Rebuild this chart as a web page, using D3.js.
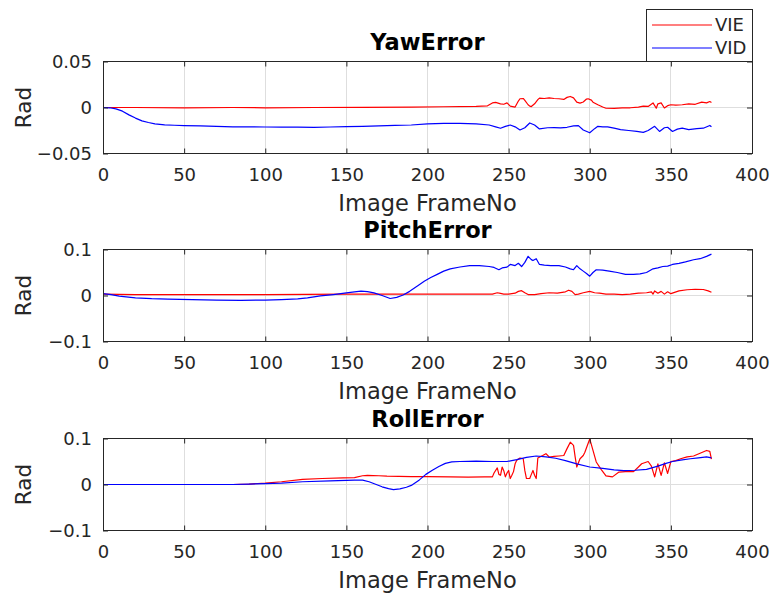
<!DOCTYPE html>
<html>
<head>
<meta charset="utf-8">
<script src="https://cdn.jsdelivr.net/npm/d3@7"></script>
<style>
  body { margin: 0; background: #fff; }
  svg { display: block; }
  text { font-family: "DejaVu Sans", sans-serif; }
</style>
</head>
<body>
<svg id="fig" width="775" height="597"></svg>
<script>
// ---- Series: frame numbers and error values (rad) ----
const seriesNames = ["VIE", "VID"];
const xTicks = [0, 50, 100, 150, 200, 250, 300, 350, 400];

// Yaw error
const yawVIEFrames = [0, 20, 50, 80, 100, 130, 160, 190, 210, 230, 237, 240, 242, 245, 247, 249, 251, 254, 256, 257, 259, 260, 262, 263, 264, 266, 268, 269, 272, 275, 278, 281, 284, 286, 288, 290, 292, 294, 296, 298, 299, 301, 302, 305, 308, 310, 315, 320, 325, 330, 333, 336, 339, 341, 342, 344, 346, 348, 350, 353, 357, 361, 365, 369, 372, 374, 375];
const yawVIE = [0, 0, -0.0004, 0, -0.0003, 0, 0.0002, 0.0005, 0.0008, 0.0013, 0.0018, 0.005, 0.0055, 0.004, 0.0035, 0.005, 0.0015, 0.0005, 0.007, 0.0095, 0.0098, 0.0077, 0.003, 0.0015, 0.001, 0.004, 0.0085, 0.0102, 0.0098, 0.0105, 0.0098, 0.0095, 0.0088, 0.011, 0.012, 0.0105, 0.0058, 0.0048, 0.006, 0.0092, 0.0095, 0.008, 0.0058, 0.003, 0.0005, -0.0008, -0.001, -0.0005, -0.0003, 0.0005, 0.0015, 0.0012, 0.005, -0.0008, 0.004, 0.005, -0.0005, 0.002, 0.003, 0.0025, 0.003, 0.004, 0.0035, 0.0058, 0.005, 0.0065, 0.0055];

const yawVIDFrames = [0, 4, 8, 12, 16, 20, 24, 28, 32, 38, 44, 50, 60, 70, 80, 90, 100, 110, 120, 130, 140, 150, 160, 170, 180, 190, 200, 210, 220, 230, 238, 242, 245, 248, 251, 254, 257, 260, 263, 266, 269, 274, 278, 282, 286, 290, 293, 296, 300, 303, 305, 308, 311, 315, 319, 324, 329, 333, 336, 340, 343, 346, 348, 351, 354, 357, 361, 366, 370, 374, 375];
const yawVID = [0, -0.0003, -0.0015, -0.004, -0.008, -0.0115, -0.0145, -0.0163, -0.0178, -0.0188, -0.0193, -0.0197, -0.02, -0.0205, -0.021, -0.021, -0.0212, -0.0213, -0.0213, -0.0215, -0.0212, -0.0208, -0.0205, -0.02, -0.0195, -0.019, -0.0178, -0.0172, -0.0172, -0.0178, -0.019, -0.021, -0.0226, -0.0205, -0.019, -0.021, -0.0244, -0.022, -0.0168, -0.019, -0.0233, -0.022, -0.0218, -0.0222, -0.0215, -0.02, -0.0197, -0.0244, -0.0275, -0.023, -0.0205, -0.021, -0.021, -0.0225, -0.024, -0.025, -0.026, -0.027, -0.025, -0.0205, -0.026, -0.022, -0.0215, -0.026, -0.0235, -0.0225, -0.024, -0.023, -0.0225, -0.0195, -0.021];

// Pitch error
const pitchVIEFrames = [0, 20, 50, 100, 150, 200, 240, 243, 245, 247, 250, 254, 256, 258, 260, 262, 266, 270, 275, 280, 285, 287, 289, 291, 293, 296, 300, 303, 306, 310, 315, 320, 325, 330, 335, 338, 339, 340, 342, 344, 346, 348, 350, 355, 360, 365, 370, 373, 375];
const pitchVIE = [0.003, 0.002, 0.002, 0.002, 0.003, 0.003, 0.003, 0.006, 0.0045, 0.003, 0.003, 0.005, 0.009, 0.0105, 0.006, 0.002, 0.002, 0.004, 0.006, 0.005, 0.008, 0.0115, 0.009, 0.002, 0.003, 0.006, 0.009, 0.006, 0.005, 0.003, 0.003, 0.002, 0.003, 0.005, 0.006, 0.008, 0.003, 0.01, 0.005, 0.009, 0.003, 0.008, 0.004, 0.01, 0.0125, 0.0136, 0.013, 0.01, 0.007];

const pitchVIDFrames = [0, 5, 10, 20, 30, 40, 55, 70, 85, 100, 110, 120, 126, 134, 142, 150, 155, 159, 163, 167, 172, 177, 181, 185, 189, 194, 198, 202, 206, 210, 214, 220, 226, 232, 238, 241, 244, 246, 249, 251, 254, 256, 258, 260, 262, 264, 265, 267, 269, 272, 276, 281, 285, 288, 290, 292, 294, 296, 298, 300, 302, 304, 308, 312, 317, 322, 327, 331, 335, 339, 342, 345, 348, 351, 355, 359, 364, 368, 372, 375];
const pitchVID = [0.004, 0.002, -0.0015, -0.005, -0.007, -0.008, -0.009, -0.01, -0.0105, -0.01, -0.009, -0.0075, -0.005, -0.001, 0.002, 0.0055, 0.008, 0.0093, 0.0085, 0.0056, 0, -0.0065, -0.004, 0.001, 0.009, 0.021, 0.031, 0.039, 0.046, 0.053, 0.058, 0.062, 0.065, 0.065, 0.063, 0.061, 0.056, 0.06, 0.0617, 0.0675, 0.065, 0.07, 0.063, 0.072, 0.085, 0.078, 0.076, 0.08, 0.0675, 0.066, 0.065, 0.065, 0.062, 0.058, 0.056, 0.065, 0.058, 0.053, 0.048, 0.042, 0.05, 0.056, 0.055, 0.053, 0.05, 0.046, 0.046, 0.047, 0.05, 0.058, 0.06, 0.063, 0.064, 0.0675, 0.07, 0.073, 0.0777, 0.08, 0.085, 0.09];

// Roll error
const rollVIEFrames = [0, 40, 80, 90, 100, 110, 123, 135, 148, 155, 160, 163, 170, 175, 190, 200, 214, 225, 235, 240, 241, 243, 244, 245, 246, 247, 248, 249, 250, 251, 252, 253, 254, 255, 257, 259, 260, 261, 263, 264, 265, 266, 267, 268, 271, 273, 275, 278, 281, 284, 286, 288, 290, 291, 292, 294, 296, 297, 298, 300, 302, 304, 307, 310, 314, 318, 322, 327, 330, 332, 336, 338, 340, 342, 344, 346, 348, 350, 353, 356, 360, 364, 368, 372, 374, 375];
const rollVIE = [0, 0, 0, 0.001, 0.003, 0.006, 0.011, 0.013, 0.0145, 0.015, 0.019, 0.02, 0.019, 0.018, 0.017, 0.017, 0.0166, 0.016, 0.0165, 0.0166, 0.025, 0.036, 0.022, 0.02, 0.038, 0.03, 0.0166, 0.025, 0.0305, 0.013, 0.02, 0.028, 0.045, 0.0526, 0.0575, 0.056, 0.03, 0.013, 0.013, 0.022, 0.0305, 0.02, 0.013, 0.0575, 0.063, 0.067, 0.0597, 0.061, 0.062, 0.063, 0.078, 0.092, 0.085, 0.06, 0.038, 0.056, 0.063, 0.07, 0.08, 0.099, 0.074, 0.049, 0.033, 0.0188, 0.0166, 0.027, 0.028, 0.028, 0.038, 0.045, 0.05, 0.04, 0.0166, 0.045, 0.02, 0.047, 0.024, 0.05, 0.052, 0.056, 0.06, 0.062, 0.068, 0.074, 0.072, 0.055];

const rollVIDFrames = [0, 20, 40, 60, 80, 90, 100, 110, 123, 140, 150, 155, 160, 164, 168, 172, 176, 179, 183, 187, 190, 195, 199, 203, 207, 211, 215, 220, 230, 240, 249, 255, 261, 267, 273, 279, 285, 292, 300, 308, 315, 321, 328, 335, 342, 347, 351, 356, 362, 367, 372, 375];
const rollVID = [0, 0, 0, 0, 0, 0.001, 0.002, 0.003, 0.006, 0.008, 0.009, 0.0095, 0.0095, 0.006, 0.0005, -0.005, -0.009, -0.011, -0.0095, -0.006, -0.002, 0.01, 0.022, 0.031, 0.039, 0.046, 0.049, 0.05, 0.051, 0.05, 0.05, 0.054, 0.059, 0.062, 0.06, 0.057, 0.052, 0.045, 0.038, 0.035, 0.032, 0.03, 0.031, 0.033, 0.04, 0.046, 0.05, 0.053, 0.056, 0.058, 0.06, 0.058];

const panels = [
  { title: "YawError", yDomain: [-0.05, 0.05], yTicks: [-0.05, 0, 0.05], yFormat: d3.format(".2f"),
    series: [[yawVIEFrames, yawVIE], [yawVIDFrames, yawVID]] },
  { title: "PitchError", yDomain: [-0.1, 0.1], yTicks: [-0.1, 0, 0.1], yFormat: d3.format(".1f"),
    series: [[pitchVIEFrames, pitchVIE], [pitchVIDFrames, pitchVID]] },
  { title: "RollError", yDomain: [-0.1, 0.1], yTicks: [-0.1, 0, 0.1], yFormat: d3.format(".1f"),
    series: [[rollVIEFrames, rollVIE], [rollVIDFrames, rollVID]] }
];

// ---- Layout & style ----
const colors = ["#ff0000", "#0000ff"];
const axisColor = "#262626";
const gridColor = "#dedede";
const left = 103, right = 752;
const tops = [61.5, 249.5, 438.5];
const plotH = 92;

const svg = d3.select("#fig");
const x = d3.scaleLinear().domain([0, 400]).range([left, right]);

panels.forEach((p, i) => {
  const top = tops[i], bottom = top + plotH;
  const y = d3.scaleLinear().domain(p.yDomain).range([bottom, top]);
  const g = svg.append("g");

  // grid lines
  g.append("g").selectAll("line").data(xTicks).join("line")
    .attr("x1", d => x(d)).attr("x2", d => x(d)).attr("y1", top).attr("y2", bottom)
    .attr("stroke", gridColor).attr("stroke-width", 1).attr("shape-rendering", "crispEdges");
  g.append("g").selectAll("line").data(p.yTicks).join("line")
    .attr("x1", left).attr("x2", right).attr("y1", d => y(d)).attr("y2", d => y(d))
    .attr("stroke", gridColor).attr("stroke-width", 1).attr("shape-rendering", "crispEdges");

  // series
  const line = d3.line().x(d => x(d[0])).y(d => y(d[1]));
  p.series.forEach(([fr, vals], k) => {
    const pts = fr.map((f, j) => [f, vals[j]]);
    g.append("path").datum(pts).attr("d", line)
      .attr("fill", "none").attr("stroke", colors[k]).attr("stroke-width", 1.2)
      .attr("stroke-linejoin", "round");
  });

  // axes with inward ticks
  const styleAxis = sel => {
    sel.select(".domain").remove();
    sel.selectAll(".tick line").attr("stroke", axisColor);
    sel.selectAll("text").attr("fill", axisColor).style("font-size", "18px")
      .style("font-family", "'DejaVu Sans', sans-serif");
  };
  g.append("g").attr("transform", `translate(0,${bottom})`)
    .call(d3.axisBottom(x).tickValues(xTicks).tickSize(-5).tickPadding(15).tickFormat(d3.format("d")))
    .call(styleAxis);
  g.append("g").attr("transform", `translate(0,${top})`)
    .call(d3.axisTop(x).tickValues(xTicks).tickSize(-5).tickFormat(""))
    .call(styleAxis);
  g.append("g").attr("transform", `translate(${left},0)`)
    .call(d3.axisLeft(y).tickValues(p.yTicks).tickSize(-5).tickPadding(11)
      .tickFormat(v => (v === 0 ? "0" : p.yFormat(v))))
    .call(styleAxis);
  g.append("g").attr("transform", `translate(${right},0)`)
    .call(d3.axisRight(y).tickValues(p.yTicks).tickSize(-5).tickFormat(""))
    .call(styleAxis);

  // box
  g.append("rect").attr("x", left).attr("y", top).attr("width", right - left).attr("height", plotH)
    .attr("fill", "none").attr("stroke", axisColor).attr("stroke-width", 1)
    .attr("shape-rendering", "crispEdges");

  // title and labels
  g.append("text").attr("x", (left + right) / 2).attr("y", top - 12)
    .attr("text-anchor", "middle").attr("fill", "#000")
    .style("font-size", "22.5px").style("font-weight", "bold").text(p.title);
  g.append("text").attr("x", (left + right) / 2).attr("y", bottom + 57)
    .attr("text-anchor", "middle").attr("fill", axisColor)
    .style("font-size", "22.5px").text("Image FrameNo");
  g.append("text").attr("transform", `translate(31,${(top + bottom) / 2}) rotate(-90)`)
    .attr("text-anchor", "middle").attr("fill", axisColor)
    .style("font-size", "21.5px").text("Rad");
});

// ---- Legend ----
const lg = svg.append("g");
lg.append("rect").attr("x", 646).attr("y", 9.5).attr("width", 106).attr("height", 52)
  .attr("fill", "#fff").attr("stroke", axisColor).attr("stroke-width", 1)
  .attr("shape-rendering", "crispEdges");
seriesNames.forEach((name, k) => {
  const ly = 25 + k * 23;
  lg.append("line").attr("x1", 652).attr("x2", 712).attr("y1", ly).attr("y2", ly)
    .attr("stroke", colors[k]).attr("stroke-width", 1.2);
  lg.append("text").attr("x", 715).attr("y", ly).attr("dy", "0.36em")
    .attr("fill", axisColor).style("font-size", "18px").text(name);
});
</script>
</body>
</html>
